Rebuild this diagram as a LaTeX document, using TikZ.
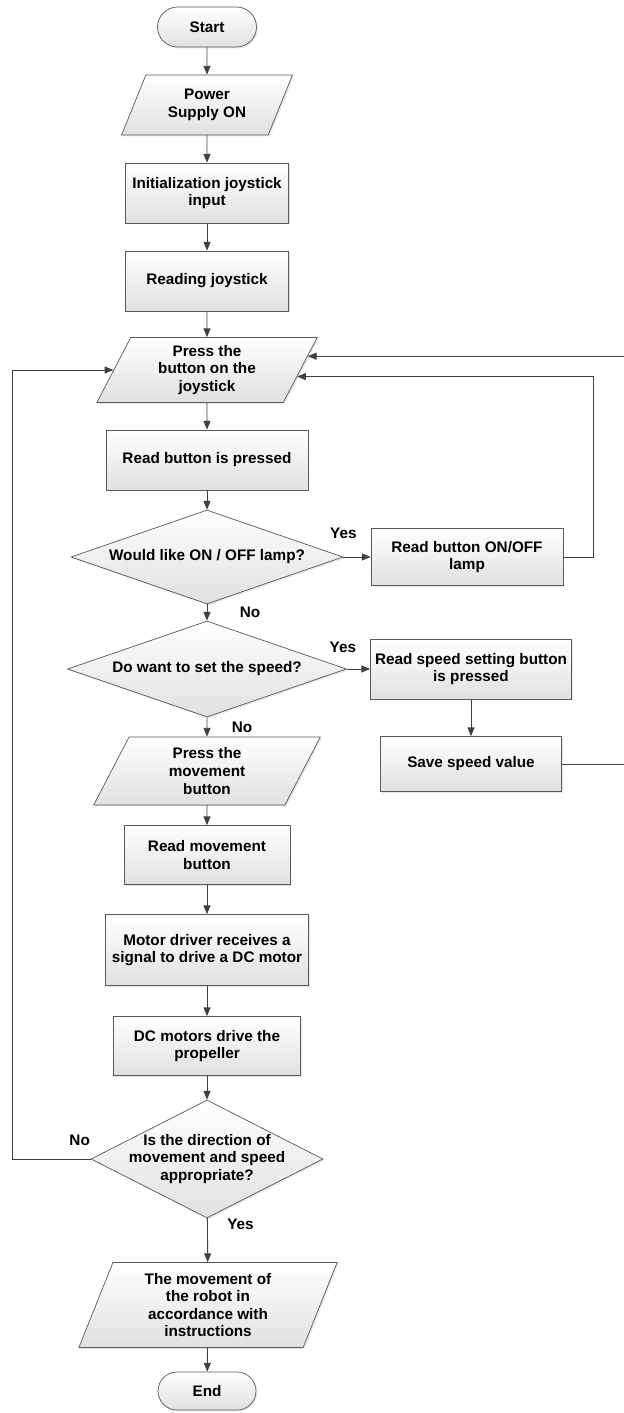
\documentclass[tikz,border=0pt]{standalone}
\usepackage{fontspec}
\setmainfont{Liberation Sans}
\usetikzlibrary{shapes.geometric,arrows.meta,shadows,calc}

\begin{document}
\begin{tikzpicture}[x=0.02cm,y=-0.02cm,
    font=\fontsize{8.7}{10}\selectfont\bfseries,
    box/.style={draw=black!65, top color=white, bottom color=black!12, align=center, inner sep=1pt,
      drop shadow={opacity=.2, shadow xshift=.8pt, shadow yshift=-.8pt}},
    term/.style={box, rounded corners=0.4cm},
    io/.style={box, trapezium, trapezium stretches=true, trapezium left angle=#1, trapezium right angle={180-#1}},
    io/.default=66,
    dec/.style={box, diamond, aspect=2, inner sep=-8pt},
    arr/.style={draw=black!75, line width=.5pt, -{Triangle[length=5pt,width=4pt]}},
    lbl/.style={inner sep=0pt}]
      \useasboundingbox (0,0) rectangle (623,1413);

      \node[term, minimum width=1.98cm, minimum height=0.8cm] (start) at (207,27) {Start};
      \node[io=65, minimum width=3.42cm, minimum height=1.2cm] (power) at (207,105) {Power\\Supply ON};
      \node[box, minimum width=3.26cm, minimum height=1.2cm] (init) at (207,193) {Initialization joystick\\input};
      \node[box, minimum width=3.26cm, minimum height=1.2cm] (readjoy) at (207,281) {Reading joystick};
      \node[io=67, minimum width=4.42cm, minimum height=1.3cm] (press) at (207,370) {Press the\\button on the\\joystick};
      \node[box, minimum width=4.04cm, minimum height=1.2cm] (readbtn) at (207,460) {Read button is pressed};
      \node[dec, minimum width=5.44cm, minimum height=1.88cm] (lampq) at (207,557) {Would like ON / OFF lamp?};
      \node[box, minimum width=3.84cm, minimum height=1.14cm] (lamp) at (467,557) {Read button ON/OFF\\lamp};
      \node[dec, minimum width=5.58cm, minimum height=1.92cm] (speedq) at (207,669) {Do want to set the speed?};
      \node[box, minimum width=4.02cm, minimum height=1.2cm] (speedbtn) at (471,669) {Read speed setting button\\is pressed};
      \node[box, minimum width=3.62cm, minimum height=1.1cm] (savespeed) at (471,764) {Save speed value};
      \node[io=70, minimum width=4.54cm, minimum height=1.36cm] (move) at (207,771) {Press the\\movement\\button};
      \node[box, minimum width=3.32cm, minimum height=1.18cm] (readmove) at (207,855) {Read movement\\button};
      \node[box, minimum width=4.06cm, minimum height=1.42cm] (motor) at (207,950) {Motor driver receives a\\signal to drive a DC motor};
      \node[box, minimum width=3.74cm, minimum height=1.18cm] (dcmotor) at (207,1046) {DC motors drive the\\propeller};
      \node[dec, minimum width=4.64cm, minimum height=2.36cm] (dirq) at (207,1159) {Is the direction of\\movement and speed\\appropriate?};
      \node[io=71, minimum width=5.2cm, minimum height=1.7cm] (result) at (208,1305) {The movement of\\the robot in\\accordance with\\instructions};
      \node[term, rounded corners=0.38cm, minimum width=1.96cm, minimum height=0.76cm] (end) at (207,1391) {End};

      \draw[arr] (start) -- (power);
      \draw[arr] (power) -- (init);
      \draw[arr] (init) -- (readjoy);
      \draw[arr] (readjoy) -- (press);
      \draw[arr] (press) -- (readbtn);
      \draw[arr] (readbtn) -- (lampq);
      \draw[arr] (lampq) -- node[lbl, pos=0, yshift=0.48cm] {Yes} (lamp);
      \draw[arr] (lamp.east) -- ++(30,0) |- ($(press.top right corner)!0.6!(press.bottom right corner)$);
      \draw[arr] (lampq) -- node[lbl, xshift=0.86cm] {No} (speedq);
      \draw[arr] (speedq) -- node[lbl, pos=0, xshift=-0.08cm, yshift=0.44cm] {Yes} (speedbtn);
      \draw[arr] (speedbtn) -- (savespeed);
      \draw[arr] (savespeed.east) -- ++(66,0) |- ($(press.top right corner)!0.29!(press.bottom right corner)$);
      \draw[arr] (speedq) -- node[lbl, xshift=0.7cm] {No} (move);
      \draw[arr] (move) -- (readmove);
      \draw[arr] (readmove) -- (motor);
      \draw[arr] (motor) -- (dcmotor);
      \draw[arr] (dcmotor) -- (dirq);
      \draw[arr] (dirq.west) -- node[lbl, pos=0, xshift=-0.22cm, yshift=0.38cm] {No} ++(-78,0) |- ($(press.bottom left corner)!0.5!(press.top left corner)$);
      \draw[arr] (dirq) -- node[lbl, pos=0.15, xshift=0.66cm] {Yes} (result);
      \draw[arr] (result) -- (end);

    \end{tikzpicture}
\end{document}
